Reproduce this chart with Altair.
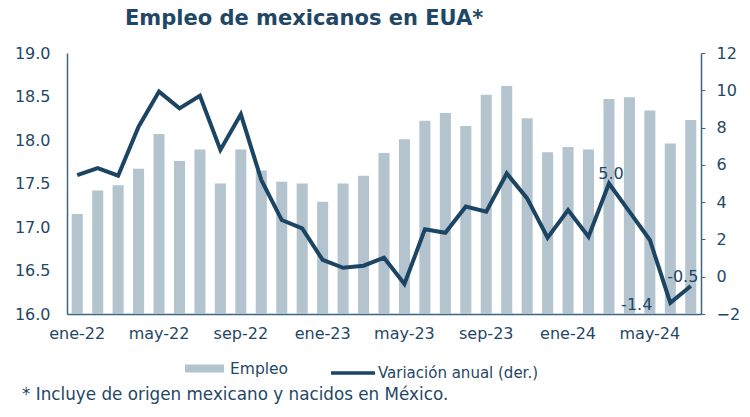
import altair as alt
import pandas as pd

months = ["ene-22","feb-22","mar-22","abr-22","may-22","jun-22","jul-22","ago-22","sep-22","oct-22","nov-22","dic-22",
          "ene-23","feb-23","mar-23","abr-23","may-23","jun-23","jul-23","ago-23","sep-23","oct-23","nov-23","dic-23",
          "ene-24","feb-24","mar-24","abr-24","may-24","jun-24","jul-24"]
empleo = [17.15,17.42,17.48,17.67,18.07,17.76,17.89,17.50,17.89,17.65,17.52,17.50,
          17.29,17.50,17.59,17.85,18.01,18.22,18.31,18.16,18.52,18.62,18.25,17.86,
          17.92,17.89,18.47,18.49,18.34,17.96,18.23]
variacion = [5.45,5.83,5.42,8.05,9.93,9.03,9.71,6.80,8.71,5.19,3.04,2.59,
             0.90,0.48,0.59,1.02,-0.39,2.54,2.36,3.76,3.49,5.54,4.20,2.09,
             3.58,2.15,5.0,3.49,1.97,-1.4,-0.5]
x_labels = ["ene-22","may-22","sep-22","ene-23","may-23","sep-23","ene-24","may-24"]
title_text = "Empleo de mexicanos en EUA*"
footnote = "* Incluye de origen mexicano y nacidos en México."

TXT = "#1f4766"
BAR = "#b4c4cf"
LINE = "#1b4563"
AX = "#3d6582"
FONT = "DejaVu Sans"

df = pd.DataFrame({"mes": months, "empleo": empleo, "var": variacion,
                   "s1": "Empleo", "s2": "Variación anual (der.)"})
df["lbl"] = df["var"].map(lambda v: f"{v:.1f}")

xenc = alt.X("mes:N", sort=months,
             scale=alt.Scale(paddingInner=0.46, paddingOuter=0.23),
             axis=alt.Axis(values=x_labels, labelAngle=0, title=None, ticks=False,
                           labelPadding=11, labelFontSize=16, labelColor=TXT, labelFont=FONT,
                           labelOverlap=False, domainColor=AX, domainWidth=1.5))

bars = alt.Chart(df).mark_bar(color=BAR, clip=True).encode(
    x=xenc,
    y=alt.Y("empleo:Q", scale=alt.Scale(domain=[16, 19], zero=False, nice=False),
            axis=alt.Axis(values=[16,16.5,17,17.5,18,18.5,19], format=".1f", title=None, grid=False,
                          ticks=False, labelPadding=17, labelFontSize=16, labelColor=TXT, labelFont=FONT,
                          labelOverlap=False, domainColor=AX, domainWidth=1.5)),
    color=alt.Color("s1:N", scale=alt.Scale(range=[BAR]),
                    legend=alt.Legend(title=None, orient="none", legendX=118, legendY=296,
                                      symbolType="M-1,-0.205H1V0.205H-1Z", symbolSize=1521,
                                      symbolStrokeWidth=0, labelFontSize=15.5, labelColor=TXT,
                                      labelFont=FONT, labelOffset=6, labelLimit=300)),
)

yr = alt.Y("var:Q", scale=alt.Scale(domain=[-2, 12], nice=False),
           axis=alt.Axis(orient="right", values=[-2,0,2,4,6,8,10,12], format="d", title=None, grid=False,
                         tickSize=4, tickColor=AX, labelPadding=11, labelFontSize=16, labelOverlap=False,
                         labelColor=TXT, labelFont=FONT, domainColor=AX, domainWidth=1.5))

xl = alt.X("mes:N", sort=months)

line = alt.Chart(df).mark_line(strokeWidth=4, strokeJoin="miter").encode(
    x=xl,
    y=yr,
    stroke=alt.Stroke("s2:N", scale=alt.Scale(range=[LINE]),
                      legend=alt.Legend(title=None, orient="none", legendX=262, legendY=296,
                                        symbolType="stroke", symbolSize=1936, symbolStrokeWidth=3.5,
                                        labelFontSize=15, labelColor=TXT, labelFont=FONT, labelOffset=1,
                                        labelLimit=300)),
)

def lbl(mes, **kw):
    return alt.Chart(df).transform_filter(alt.datum.mes == mes).mark_text(
        fontSize=16, color=TXT, font=FONT, baseline="middle", **kw).encode(
        x=xl, y=yr, text="lbl:N")

lbl_a = lbl("mar-24", dx=2, dy=-10)
lbl_b = lbl("jun-24", align="right", dx=-18, dy=2)
lbl_c = lbl("jul-24", dx=-8, dy=-9)

note = alt.Chart(pd.DataFrame({"t": [footnote]})).mark_text(
    fontSize=16.8, color=TXT, font=FONT, align="left", baseline="middle").encode(
    x=alt.value(-45), y=alt.value(342), text="t:N")

right = alt.layer(line, lbl_a, lbl_b, lbl_c)
chart = alt.layer(bars, right, note).resolve_scale(
    y="independent", color="independent", stroke="independent"
).properties(
    width=634, height=261,
    title=alt.TitleParams(title_text, anchor="start", frame="group", dx=58, offset=16,
                          fontSize=21, fontWeight="bold", color=TXT, font="DejaVu Sans"),
    autosize=alt.AutoSizeParams(type="none"),
    padding={"left": 67, "top": 53, "right": 49, "bottom": 103},
).configure_view(stroke=None)

chart.save("out.html", embed_options={"renderer": "svg", "actions": False})
